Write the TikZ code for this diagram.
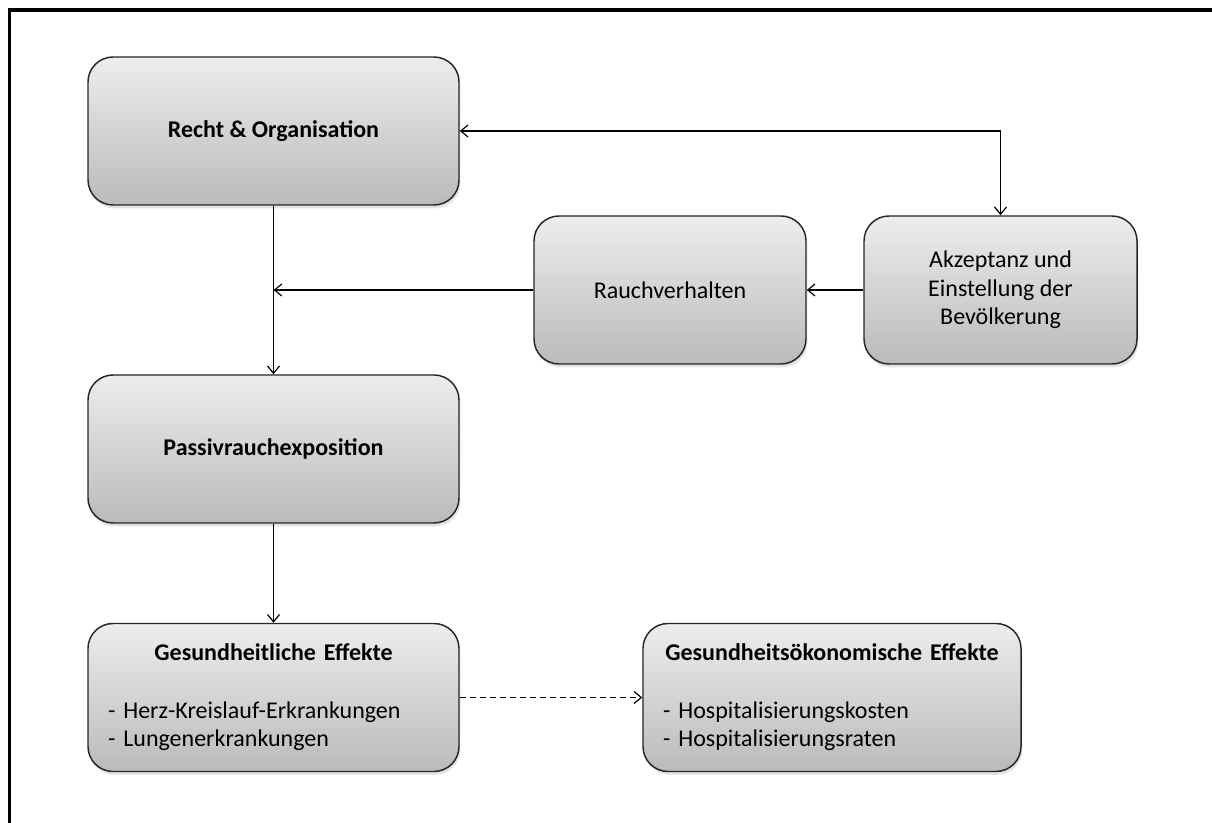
\documentclass[tikz,border=0pt]{standalone}
\usepackage{fontspec}
\setmainfont{Carlito}
\usetikzlibrary{arrows.meta,shadows}
\begin{document}
\begin{tikzpicture}[x=0.75pt,y=-0.75pt,
  box/.style={draw=black!85, line width=1.1pt, rounded corners=18.75pt,
    top color=black!7, bottom color=black!27,
    drop shadow={shadow xshift=1pt,shadow yshift=-2.5pt,opacity=0.22},
    minimum height=111pt, inner ysep=0pt, inner xsep=15pt,
    font=\fontsize{18}{21.5}\selectfont, align=center},
  listbox/.style={box, align=left},
  conn/.style={line width=0.9pt, draw=black, -{Straight Barb[length=5.5pt,width=9pt]}},
  twoway/.style={line width=0.9pt, draw=black, {Straight Barb[length=5.5pt,width=9pt]}-{Straight Barb[length=5.5pt,width=9pt]}},
  frameline/.style={line width=2.4pt, draw=black}
]
\useasboundingbox (0,0) rectangle (1212,823);
\fill[white] (0,0) rectangle (1212,823);
\draw[frameline] (9.5,823) -- (9.5,10) -- (1212,10);

\node[box, minimum width=278.25pt, font=\fontsize{18}{21.5}\selectfont\bfseries] (recht) at (273.5,131) {Recht \& Organisation};
\node[box, minimum width=204pt] (rauch) at (670,290) {Rauchverhalten};
\node[box, minimum width=204.75pt] (akz) at (1000.5,290) {Akzeptanz und\\Einstellung der\\Bevölkerung};
\node[box, minimum width=278.25pt, font=\fontsize{18}{21.5}\selectfont\bfseries] (passiv) at (273.5,449) {Passivrauchexposition};
\node[listbox, minimum width=278.25pt, text width=248.25pt] (ges) at (273.5,697.5)
  {{\centering\bfseries Gesundheitliche Effekte\par}\mbox{}\par
   - Herz-Kreislauf-Erkrankungen\\- Lungenerkrankungen};
\node[listbox, minimum width=283.5pt, text width=253.5pt] (oek) at (832,697.5)
  {{\centering\bfseries Gesundheitsökonomische Effekte\par}\mbox{}\par
   - Hospitalisierungskosten\\- Hospitalisierungsraten};

\coordinate (j) at (recht.south |- rauch.west);
\draw[conn] (recht.south) -- (passiv.north);
\draw[conn] (rauch.west) -- (j);
\draw[conn] (akz.west) -- (rauch.east);
\draw[twoway] (recht.east) -| (akz.north);
\draw[conn] (passiv.south) -- (ges.north);
\draw[conn, dash pattern=on 4.5pt off 3pt] (ges.east) -- (oek.west);
\end{tikzpicture}
\end{document}
